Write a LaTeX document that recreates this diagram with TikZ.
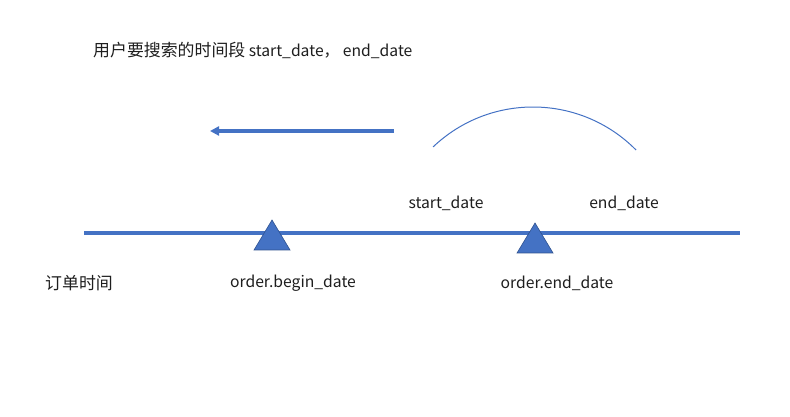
\documentclass[tikz,border=0pt]{standalone}
\usepackage{fontspec}
\setmainfont{Noto Sans CJK SC}
\usepackage{xcolor}
\usepackage{tikz}
\usetikzlibrary{arrows.meta,calc,positioning}
\definecolor{lineblue}{RGB}{68,114,196}
\definecolor{edgeblue}{RGB}{47,82,143}
\definecolor{textgrey}{RGB}{30,30,30}
\newcommand{\cjksize}{\fontsize{16.9}{18}\selectfont}
\tikzset{
  timeline/.style={line width=4pt,draw=lineblue},
  marker/.style={fill=lineblue,draw=edgeblue,line width=0.6pt},
  leftarrow/.style={-{Triangle[length=9pt,width=9pt]},line width=3.2pt,draw=lineblue},
  spanarc/.style={draw=lineblue,line width=1pt},
  lbl/.style={font=\fontsize{15.7}{18}\selectfont,text=textgrey,inner sep=0pt}
}

\begin{document}
\begin{tikzpicture}[x=1pt,y=1pt]
  \useasboundingbox (0,0) rectangle (790,417);
  % title
  \node[lbl,anchor=west] (title) at (93,367) {{\cjksize 用户要搜索的时间段} start\_date，\ end\_date};
  % order time line
  \coordinate (lineL) at (84,184);
  \coordinate (lineR) at (740,184);
  \draw[timeline] (lineL) -- (lineR);
  \draw[marker] (254,167) -- (272,197) -- (290,167) -- cycle;
  \draw[marker] (517,164) -- (535,194) -- (553,164) -- cycle;
  % search direction
  \coordinate (arrS) at (394,286);
  \coordinate (arrE) at (210,286);
  \draw[leftarrow] (arrS) -- (arrE);
  \coordinate (arcC) at (533,165);
  \draw[spanarc] ($(arcC)+(133.6:145)$) arc[start angle=133.6,end angle=44.7,radius=145];
  % labels
  \node[lbl] (sd) at (446,214) {start\_date};
  \node[lbl] (ed) at (624,214) {end\_date};
  \node[lbl,anchor=west] (ot) at (45,134) {\cjksize 订单时间};
  \node[lbl] (obd) at (293,134) {order.begin\_date};
  \node[lbl] (oed) at (557,134) {order.end\_date};
\end{tikzpicture}
\end{document}
